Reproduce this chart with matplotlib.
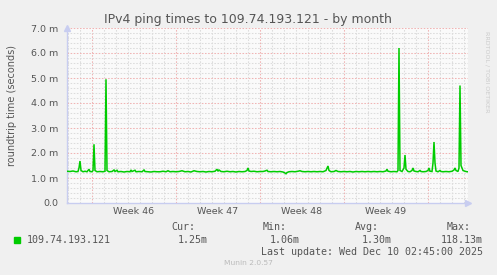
import numpy as np
import matplotlib.pyplot as plt
from matplotlib.ticker import FuncFormatter

# hours since Mon 10 Nov 2025 00:00 (start of week 46)
hours = [-50, -44, -38, -32, -28, -26, -24, -22, -18, -14, -10, -6, -4, 0, 2, 4, 6, 10,
         16, 22, 26, 28, 30, 34, 40, 44, 46, 50, 52, 58, 64, 70, 76, 78, 80, 86, 88, 94,
         100, 104, 106, 112, 118, 124, 130, 136, 142, 148, 152, 156, 162, 168, 174, 180,
         186, 192, 198, 204, 210, 216, 222, 228, 234, 240, 246, 250, 252, 254, 258, 264,
         270, 276, 282, 288, 294, 300, 306, 310, 312, 314, 318, 324, 330, 336, 342, 346,
         350, 352, 358, 364, 370, 376, 382, 386, 388, 390, 394, 400, 406, 412, 416, 420,
         426, 432, 438, 444, 450, 456, 462, 468, 472, 474, 478, 484, 488, 492, 498, 504,
         510, 516, 522, 528, 534, 540, 546, 552, 558, 564, 570, 576, 582, 588, 590, 592,
         598, 604, 610, 612, 614, 616, 620, 624, 626, 628, 632, 636, 640, 642, 644, 648,
         652, 656, 658, 662, 668, 672, 674, 676, 680, 682, 684, 686, 688, 692, 696, 698,
         702, 708, 714, 720, 724, 726, 728, 732, 734, 736, 738, 740, 742, 746, 750, 752]
rtt_ms = [1.27, 1.26, 1.28, 1.25, 1.26, 1.40, 1.68, 1.30, 1.25, 1.27, 1.25, 1.35, 1.26, 1.25, 1.30, 2.35, 1.30, 1.25,
          1.26, 1.25, 1.27, 4.95, 1.30, 1.25, 1.26, 1.32, 1.26, 1.31, 1.25, 1.26, 1.24, 1.26, 1.25, 1.32, 1.26, 1.31, 1.25, 1.26,
          1.25, 1.32, 1.26, 1.25, 1.24, 1.26, 1.25, 1.25, 1.27, 1.25, 1.29, 1.25, 1.26, 1.25, 1.26, 1.29,
          1.25, 1.26, 1.24, 1.29, 1.26, 1.25, 1.26, 1.24, 1.26, 1.25, 1.27, 1.35, 1.27, 1.32, 1.26, 1.25,
          1.27, 1.25, 1.26, 1.24, 1.26, 1.25, 1.26, 1.30, 1.40, 1.28, 1.26, 1.27, 1.25, 1.26, 1.26, 1.28,
          1.31, 1.26, 1.25, 1.26, 1.25, 1.26, 1.24, 1.20, 1.17, 1.22, 1.25, 1.26, 1.25, 1.27, 1.29, 1.26,
          1.25, 1.26, 1.25, 1.26, 1.25, 1.26, 1.25, 1.30, 1.48, 1.30, 1.25, 1.26, 1.30, 1.26, 1.25, 1.26,
          1.25, 1.26, 1.24, 1.26, 1.25, 1.26, 1.25, 1.26, 1.25, 1.26, 1.25, 1.26, 1.25, 1.28, 1.35, 1.27,
          1.25, 1.26, 1.25, 1.30, 6.20, 1.30, 1.26, 1.40, 1.92, 1.35, 1.26, 1.25, 1.30, 1.40, 1.28, 1.26,
          1.25, 1.30, 1.26, 1.25, 1.26, 1.30, 1.40, 1.27, 1.26, 1.60, 2.44, 1.60, 1.28, 1.25, 1.30, 1.26,
          1.25, 1.26, 1.25, 1.27, 1.32, 1.40, 1.30, 1.26, 1.40, 4.70, 1.50, 1.40, 1.30, 1.27, 1.25, 1.25]

week_labels = ['Week 46', 'Week 47', 'Week 48', 'Week 49']
week_starts = [0, 7, 14, 21, 28]
host = '109.74.193.121'
stat_names = ['Cur:', 'Min:', 'Avg:', 'Max:']
stat_values = ['1.25m', '1.06m', '1.30m', '118.13m']
last_update = 'Last update: Wed Dec 10 02:45:00 2025'

W, H = 497, 275
BG = '#f0f0f0'
TXT = '#555555'
GREEN = '#00cc00'
MINOR = '#dcdcdc'
MAJOR = '#f0b4b4'

fig = plt.figure(figsize=(W / 100, H / 100), dpi=100, facecolor=BG)
ax = fig.add_axes([67 / W, 72 / H, 401 / W, 175 / H], facecolor='#fafafa')

days = np.array(hours) / 24.0
x0, x1 = -50 / 24, 752 / 24
ax.set_xlim(x0, x1)
ax.set_ylim(0, 7)

# grid: minor grey, major red
dash = (0, (1.5, 1.5))
for d in np.arange(np.ceil(x0), x1, 1):
    if d not in week_starts:
        ax.axvline(d, color=MINOR, lw=0.75, ls=dash, zorder=1)
for d in week_starts:
    ax.axvline(d, color=MAJOR, lw=0.75, ls=dash, zorder=1)
for v in np.arange(0.2, 7.01, 0.2):
    if abs(v - round(v)) > 1e-6:
        ax.axhline(v, color=MINOR, lw=0.75, ls=dash, zorder=1)
for v in range(1, 8):
    ax.axhline(v, color=MAJOR, lw=0.75, ls=dash, zorder=1)

ax.plot(days, rtt_ms, color=GREEN, lw=1.1, zorder=3, solid_joinstyle='miter')

for s in ['top', 'right']:
    ax.spines[s].set_visible(False)
for s in ['left', 'bottom']:
    ax.spines[s].set_color('#c8cdf0')
    ax.spines[s].set_linewidth(1.0)
ax.plot([1.0], [0.0], marker='>', color='#c8cdf0', ms=5, transform=ax.transAxes, clip_on=False)
ax.plot([0.0], [1.0], marker='^', color='#c8cdf0', ms=5, transform=ax.transAxes, clip_on=False)

ax.set_yticks(range(0, 8))
ax.yaxis.set_major_formatter(FuncFormatter(lambda v, p: f'{v:.1f} m' if v else '0.0'))
ax.set_xticks([w + 3.5 for w in week_starts[:4]])
ax.set_xticklabels(week_labels)
ax.tick_params(axis='both', length=0, labelsize=6.8, labelcolor=TXT)
ax.tick_params(axis='y', pad=6)
ax.tick_params(axis='x', pad=3)

fig.text(248 / W, 1 - 19 / H, 'IPv4 ping times to 109.74.193.121 - by month',
         ha='center', va='center', fontsize=9, color=TXT)
fig.text(12 / W, 1 - 105 / H, 'roundtrip time (seconds)', rotation=90,
         ha='center', va='center', fontsize=7, color=TXT)
fig.text(487 / W, 1 - 72 / H, 'RRDTOOL / TOBI OETIKER', rotation=270,
         ha='center', va='center', fontsize=4.6, color='#cccccc')

mono = 'DejaVu Sans Mono'
fig.patches.append(plt.Rectangle((14 / W, 1 - 243 / H), 6 / W, 6 / H,
                                 transform=fig.transFigure, color=GREEN))
fig.text(27 / W, 1 - 240 / H, host, ha='left', va='center',
         fontsize=7.2, family=mono, color=TXT)
for i, (n, v) in enumerate(zip(stat_names, stat_values)):
    fig.text((195 + 92 * i) / W, 1 - 227 / H, n, ha='right', va='center',
             fontsize=7.2, family=mono, color=TXT)
    fig.text((208 + 91.7 * i) / W, 1 - 240 / H, v, ha='right', va='center',
             fontsize=7.2, family=mono, color=TXT)
fig.text(483 / W, 1 - 252 / H, last_update, ha='right', va='center',
         fontsize=7.2, family=mono, color=TXT)
fig.text(248 / W, 1 - 263 / H, 'Munin 2.0.57', ha='center', va='center',
         fontsize=5.4, color='#bbbbbb')

fig.savefig('out.png', dpi=100, facecolor=BG)
